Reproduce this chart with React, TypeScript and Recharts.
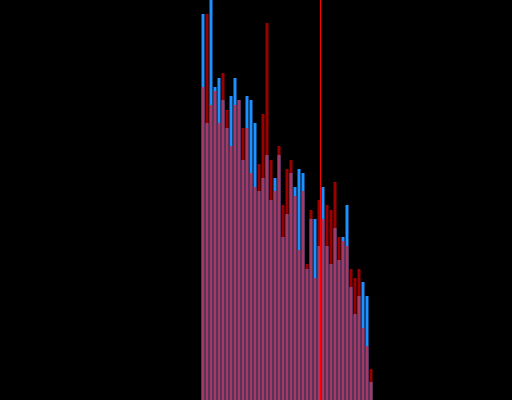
import { Bar, BarChart, ReferenceLine, XAxis, YAxis } from "recharts";

const bins = [
  "50", "51", "52", "53", "54", "55", "56", "57", "58", "59",
  "60", "61", "62", "63", "64", "65", "66", "67", "68", "69",
  "70", "71", "72", "73", "74", "75", "76", "77", "78", "79",
  "80", "81", "82", "83", "84", "85", "86", "87", "88", "89",
  "90", "91", "92",
];

const blueCounts = [
  96.5, 69.25, 100, 78.25, 80.5, 75, 68, 76, 80.5, 75,
  60, 76, 75, 69.25, 52.25, 55.5, 61.25, 50, 55.5, 61.25,
  40.75, 46.5, 56.75, 53.25, 57.75, 56.75, 32.75, 45.25, 45.25, 38.5,
  53.25, 38.5, 34, 43, 35, 40.75, 48.75, 28.25, 21.5, 26,
  29.5, 26, 4.5,
];

const redCounts = [
  78.25, 96.5, 73.75, 77.25, 69.25, 81.75, 72.5, 63.5, 73.75, 75,
  68, 68, 56.75, 53.25, 59, 71.5, 94.25, 60, 52.25, 63.5,
  48.75, 57.75, 60, 51, 37.5, 52.25, 34, 47.5, 30.5, 50,
  45.25, 48.75, 47.5, 54.5, 40.75, 39.75, 38.5, 32.75, 30.5, 32.75,
  18, 13.5, 7.75,
];

// the red marker sits on the right edge of this bin
const markerBin = "79";

const data = bins.map((bin, i) => ({ bin, blue: blueCounts[i], red: redCounts[i] }));

export default function App() {
  return (
    <div style={{ position: "fixed", left: 0, top: 0, width: 512, height: 400, background: "#000" }}>
      <BarChart
        width={512}
        height={400}
        data={data}
        margin={{ top: 0, right: 139.5, bottom: 0, left: 200.5 }}
        barGap={0}
      >
        <XAxis xAxisId="a" dataKey="bin" hide />
        <XAxis xAxisId="b" dataKey="bin" hide />
        <YAxis domain={[0, 100]} allowDataOverflow hide />
        <Bar xAxisId="a" dataKey="blue" fill="#1e90ff" barSize={3} isAnimationActive={false} />
        <Bar xAxisId="b" dataKey="red" fill="#ff0000" fillOpacity={0.6} barSize={3} isAnimationActive={false} />
        <ReferenceLine xAxisId="b" x={markerBin} position="end" stroke="#ff0000" strokeWidth={1} />
      </BarChart>
    </div>
  );
}
